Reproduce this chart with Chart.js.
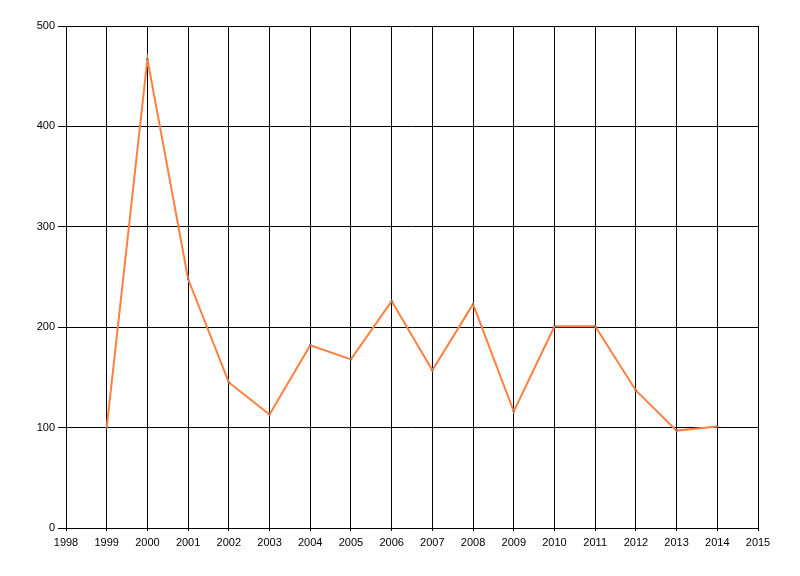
<!DOCTYPE html>
<html>
<head>
<meta charset="utf-8">
<script src="https://cdn.jsdelivr.net/npm/chart.js@4/dist/chart.umd.min.js"></script>
<style>
  html, body { margin: 0; padding: 0; background: #fff; }
  #wrap { width: 800px; height: 576px; }
</style>
</head>
<body>
<div id="wrap"><canvas id="chart" width="800" height="576"></canvas></div>
<script>
// valeurs
var years = [1999, 2000, 2001, 2002, 2003, 2004, 2005, 2006, 2007, 2008, 2009, 2010, 2011, 2012, 2013, 2014];
var values = [100, 467, 248, 145, 113, 182, 168, 226, 157, 223, 116, 201, 201, 137, 97, 101];
var xMin = 1998, xMax = 2015;
var yMin = 0, yMax = 500, yStep = 100;

var points = years.map(function(y, i) { return { x: y, y: values[i] }; });

Chart.defaults.font.family = "'Liberation Sans', Arial, sans-serif";
Chart.defaults.font.size = 11;
Chart.defaults.color = '#000';

var ctx = document.getElementById('chart').getContext('2d');
window.myChart = new Chart(ctx, {
  type: 'line',
  data: {
    datasets: [{
      data: points,
      borderColor: 'rgb(255, 128, 64)',
      borderWidth: 2,
      pointRadius: 1.2,
      pointBackgroundColor: '#777',
      pointBorderWidth: 0,
      tension: 0,
      fill: false
    }]
  },
  options: {
    responsive: false,
    animation: false,
    layout: { padding: { top: 26, right: 42, bottom: 0, left: 0 } },
    plugins: { legend: { display: false }, tooltip: { enabled: false } },
    scales: {
      x: {
        type: 'linear',
        min: xMin,
        max: xMax,
        ticks: { stepSize: 1, padding: 5, maxRotation: 0, autoSkip: false,
                 callback: function(v) { return String(v); } },
        grid: { color: '#000', lineWidth: 1, tickLength: 3 },
        border: { color: '#000', width: 1 },
        afterFit: function(scale) { scale.height = 48; }
      },
      y: {
        min: yMin,
        max: yMax,
        ticks: { stepSize: yStep, padding: 3 },
        grid: { color: '#000', lineWidth: 1, tickLength: 8 },
        border: { color: '#000', width: 1 },
        afterFit: function(scale) { scale.width = 66; }
      }
    }
  }
});
</script>
</body>
</html>
